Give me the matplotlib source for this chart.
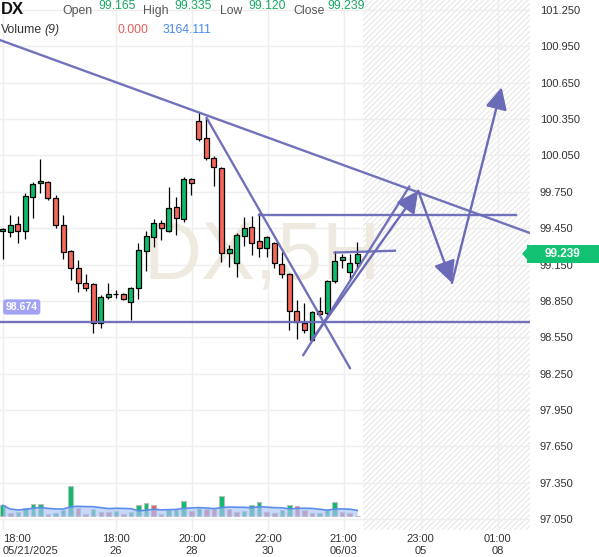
import numpy as np
import pandas as pd
import matplotlib
matplotlib.use('Agg')
import matplotlib.pyplot as plt
from matplotlib.patches import Rectangle, Polygon
from matplotlib.transforms import blended_transform_factory

plt.rcParams['font.family'] = ['Liberation Sans', 'DejaVu Sans']
plt.rcParams['hatch.linewidth'] = 0.7

# DX 5H candles
opens = [99.43, 99.418, 99.484, 99.427, 99.707, 99.823, 99.831, 99.699, 99.476, 99.262,
         99.121, 98.998, 98.989, 98.668, 98.882, 98.907, 98.907, 98.841, 98.956, 99.262,
         99.377, 99.492, 99.427, 99.625, 99.526, 99.856, 100.334, 100.194, 100.029, 99.946,
         99.245, 99.163, 99.385, 99.459, 99.344, 99.286, 99.328, 99.154, 99.072, 98.767,
         98.668, 98.527, 98.767, 98.750, 99.014, 99.187, 99.088, 99.165]
highs = [99.451, 99.559, 99.550, 99.740, 99.831, 100.021, 99.839, 99.724, 99.559, 99.27,
         99.187, 99.072, 98.995, 98.899, 98.998, 98.940, 98.915, 98.965, 99.328, 99.427,
         99.526, 99.517, 99.790, 99.707, 99.872, 99.864, 100.408, 100.359, 100.045, 99.955,
         99.311, 99.410, 99.542, 99.550, 99.575, 99.385, 99.336, 99.253, 99.080, 98.857,
         98.833, 98.767, 98.882, 99.022, 99.262, 99.237, 99.237, 99.335]
lows = [99.196, 99.377, 99.328, 99.361, 99.534, 99.740, 99.682, 99.451, 99.196, 99.022,
        98.923, 98.931, 98.585, 98.626, 98.866, 98.874, 98.857, 98.692, 98.866, 99.096,
        99.295, 99.352, 99.418, 99.394, 99.501, 99.724, 100.169, 100.012, 99.798, 99.171,
        99.130, 99.047, 99.303, 99.229, 99.212, 99.212, 99.121, 99.039, 98.610, 98.536,
        98.585, 98.520, 98.734, 98.734, 98.998, 99.121, 99.022, 99.120]
closes = [99.44, 99.476, 99.427, 99.715, 99.814, 99.839, 99.699, 99.476, 99.253, 99.121,
          98.998, 98.956, 98.668, 98.882, 98.907, 98.907, 98.866, 98.956, 99.270, 99.385,
          99.492, 99.451, 99.616, 99.534, 99.856, 99.823, 100.186, 100.029, 99.955, 99.245,
          99.278, 99.394, 99.451, 99.328, 99.286, 99.377, 99.163, 99.072, 98.767, 98.676,
          98.610, 98.758, 98.742, 99.014, 99.179, 99.212, 99.163, 99.239]
volumes = [5030, 1550, 2020, 3900, 5780, 5830, 1080, 1550, 2820, 14240,
           3900, 800, 3430, 1880, 1830, 2350, 940, 1880, 5030, 6250,
           5030, 940, 2680, 2730, 7050, 2350, 3620, 3530, 3430, 9400,
           3150, 2020, 2350, 5170, 6720, 2020, 1270, 2680, 5170, 4840,
           2820, 1550, 1650, 2680, 6720, 2020, 1550, 0]

tick_pos = [0, 15, 25.1, 35.2, 45.2, 55.4, 65.6]
tick_labels = ['18:00\n05/21/2025', '18:00\n26', '20:00\n28', '22:00\n30',
               '21:00\n06/03', '23:00\n05', '01:00\n08']
price_ticks = np.round(np.arange(97.05, 101.26, 0.3), 3)

support = 98.674
# drawn lines: (bar, price) pairs
trend_lines = [((-0.36, 101.002), (69.9, 99.410)),
               ((27.04, 100.359), (46.03, 98.296)),
               ((34.0, 99.559), (68.0, 99.559)),
               ((44.0, 99.249), (52.0, 99.264)),
               ((39.84, 98.403), (53.89, 99.792))]
arrow_path = [(40.95, 98.527), (55.08, 99.759), (59.55, 98.998), (66.14, 100.612)]

GREEN = '#0dbb6c'
RED = '#f4675a'
LINE = '#6a6ab9'

fig = plt.figure(figsize=(5.99, 5.57), dpi=100)
pos = [0, 1 - 530 / 557, 530 / 599, 530 / 557]
ax = fig.add_axes(pos)
ax.set_xlim(-0.36, 69.9)
ax.set_ylim(96.96, 101.3325)
for s in ax.spines.values():
    s.set_visible(False)

ax.set_xticks(tick_pos)
ax.set_xticklabels(tick_labels)
ax.set_yticks(price_ticks)
ax.set_yticklabels([f'{p:.3f}' for p in price_ticks])
ax.yaxis.tick_right()
ax.tick_params(axis='y', length=0, pad=7, labelsize=8, labelcolor='#333333')
ax.tick_params(axis='x', length=0, pad=3, labelsize=8, labelcolor='#333333')
ax.get_xticklabels()[0].set_horizontalalignment('left')
ax.grid(color='#eeeeee', lw=1)
ax.set_axisbelow(True)

# future area
ax.axvspan(47.75, 69.9, facecolor='none', edgecolor='#e4e4e4', hatch='//////', lw=0, zorder=0)

ax.text(0.494, 0.513, 'DX,5H', transform=ax.transAxes, fontsize=58, color='#eeeadf',
        ha='center', va='center', zorder=1)

for i, (o, h, l, c) in enumerate(zip(opens, highs, lows, closes)):
    col = GREEN if c >= o else RED
    ax.vlines(i, l, h, color='black', lw=0.9, zorder=3)
    ax.add_patch(Rectangle((i - 0.33, min(o, c)), 0.66, max(abs(c - o), 0.004),
                           facecolor=col, edgecolor='black', lw=0.9, zorder=4))

ax.axhline(support, color=LINE, lw=1.7, alpha=0.95, zorder=5)
ax.annotate(f'{support:.3f}', xy=(0.041, support), xycoords=('axes fraction', 'data'),
            xytext=(0, 11), textcoords='offset points', ha='center', va='center',
            fontsize=7.5, fontweight='bold', color='white',
            bbox=dict(boxstyle='round,pad=0.25', fc='#a3a3f5', ec='none'), zorder=6)

for (x0, y0), (x1, y1) in trend_lines:
    ax.plot([x0, x1], [y0, y1], color=LINE, lw=1.7, alpha=0.95, zorder=5)

for a, b in zip(arrow_path[:-1], arrow_path[1:]):
    ax.annotate('', xy=b, xytext=a,
                arrowprops=dict(arrowstyle='-|>,head_length=1.2,head_width=0.6',
                                color=LINE, lw=1.7, mutation_scale=11,
                                shrinkA=0, shrinkB=0), zorder=5)

# last price tag
bt = blended_transform_factory(ax.transAxes, ax.transData)
last = closes[-1]
hh = 9 / 121.2
ax.add_patch(Rectangle((0.994, last - hh), 0.14, 2 * hh, transform=bt, facecolor='#12c272',
                       edgecolor='none', clip_on=False, zorder=10))
ax.add_patch(Polygon([(0.995, last + 0.05), (0.985, last), (0.995, last - 0.05)], closed=True,
                     transform=bt, facecolor='#12c272', edgecolor='none', clip_on=False, zorder=10))
ax.text(1.062, last, f'{last:.3f}', transform=bt, ha='center', va='center', fontsize=8.5,
        fontweight='bold', color='white', zorder=11)

# volume pane
axv = fig.add_axes(pos)
axv.set_xlim(ax.get_xlim())
axv.set_ylim(-6608, 243552)
axv.axis('off')
axv.patch.set_alpha(0)
vol = np.array(volumes, dtype=float)
diff = np.diff(vol, prepend=0)
vcol = ['#c8c8c8' if v == 0 else (GREEN if d >= 0 else '#e8605c') for v, d in zip(vol, diff)]
x = np.arange(len(vol))
axv.bar(x, vol, width=0.6, color=vcol, edgecolor='#bdbdbd', lw=0.8, zorder=2)
ma = pd.Series(vol).rolling(9, min_periods=1).mean()
axv.fill_between(x, 0, ma, color='#a9c3f7', alpha=0.65, lw=0, zorder=3)
axv.plot(x, ma, color='#5b8ded', lw=1.2, zorder=4)

# header
def px(xp, yp):
    return xp / 599, 1 - yp / 557

fig.text(*px(1, 10), 'DX', fontsize=12, fontweight='bold', va='center', color='#111111')
for lab, val, xl, xv in [('Open', opens[-1], 62, 98), ('High', highs[-1], 143, 174),
                         ('Low', lows[-1], 220, 248), ('Close', closes[-1], 293, 327)]:
    fig.text(*px(xl, 11), lab, fontsize=8.8, va='center', color='#555555')
    fig.text(*px(xv, 6), f'{val:.3f}', fontsize=8.8, va='center', color='#17a862')
fig.text(*px(1, 30), 'Volume', fontsize=8.8, va='center', color='#333333')
fig.text(*px(44, 30), '(9)', fontsize=8.8, va='center', color='#333333', style='italic')
fig.text(*px(117, 30), '0.000', fontsize=8.8, va='center', color='#e0605a')
fig.text(*px(163, 30), '3164.111', fontsize=8.8, va='center', color='#4a8af0')

fig.savefig('out.png', dpi=100)
